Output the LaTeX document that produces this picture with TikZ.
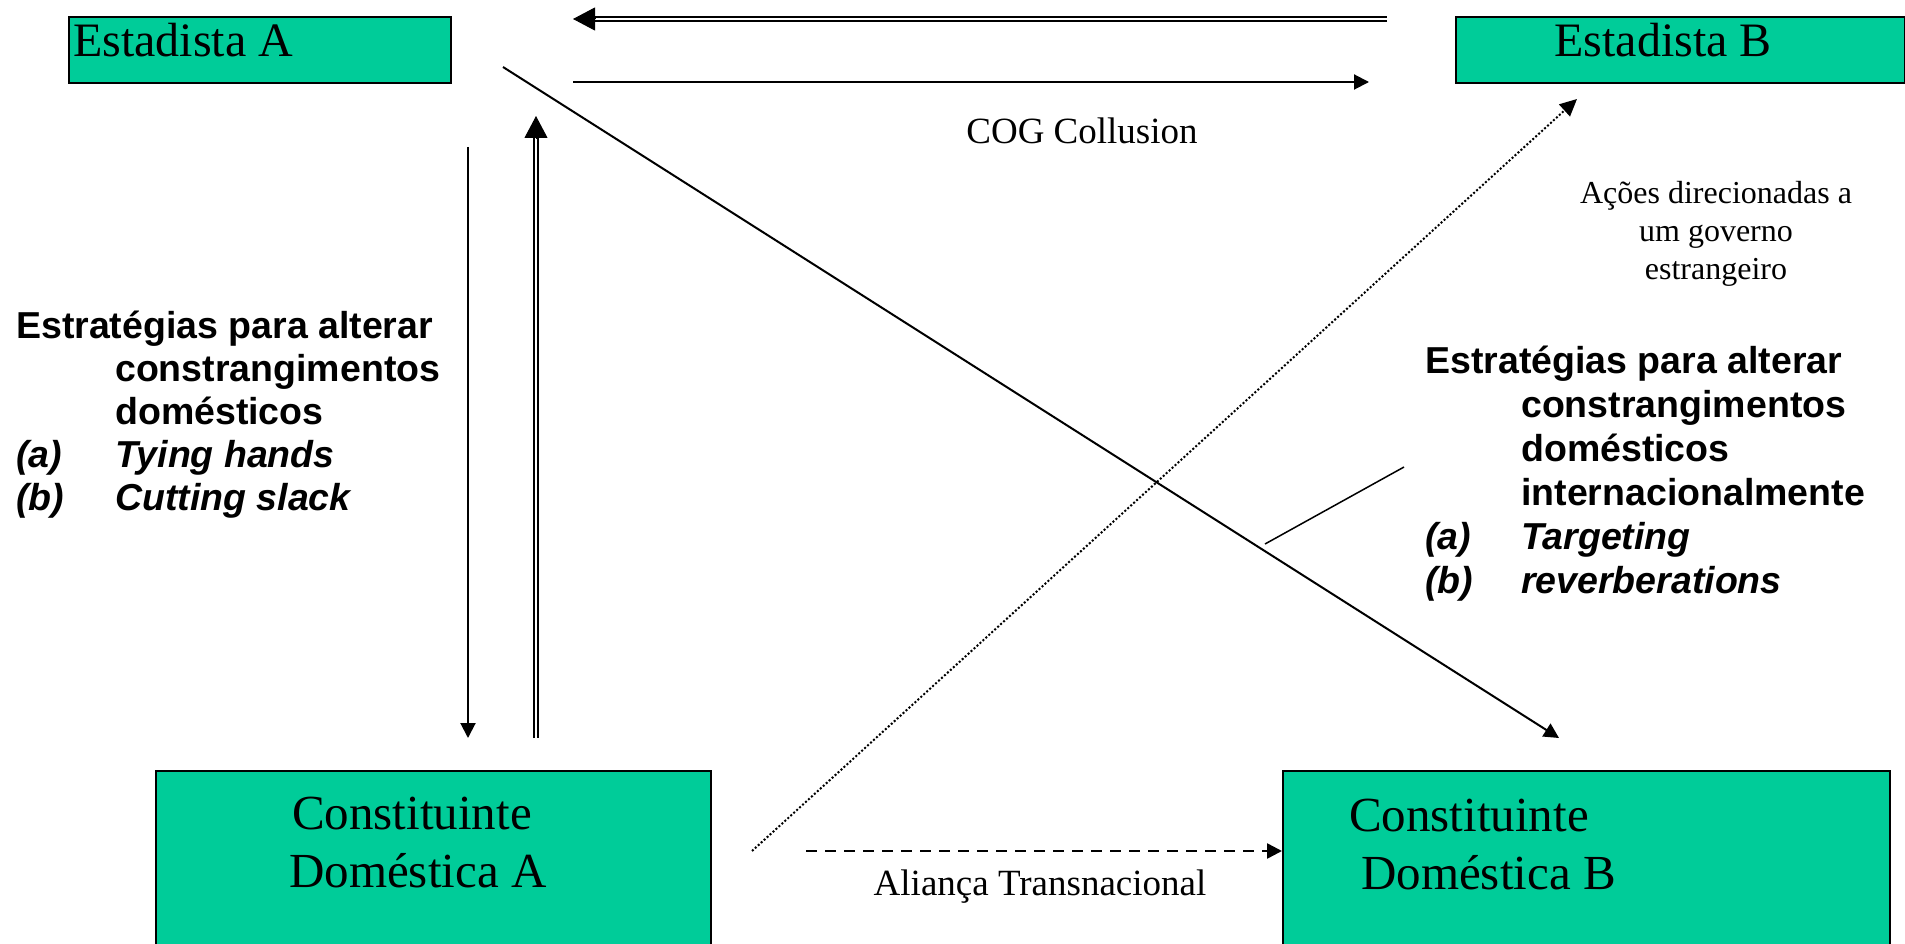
\documentclass[tikz,border=0pt]{standalone}
\usepackage{fontspec}
\setmainfont{Liberation Serif}
\newfontfamily\arialf{Liberation Sans}
\usetikzlibrary{arrows.meta}
\definecolor{boxgreen}{RGB}{0,204,153}
\begin{document}
\begin{tikzpicture}[x=1pt,y=-1pt,
  box/.style={draw=black, line width=2pt, fill=boxgreen, inner sep=0pt, outer sep=0pt, anchor=north west},
  boxtext/.style={font=\fontsize{49}{58}\selectfont, inner sep=0pt, anchor=base west, align=left},
  lbl/.style={font=\fontsize{37}{43}\selectfont, inner sep=0pt, anchor=base},
  small/.style={font=\fontsize{32}{38}\selectfont, inner sep=0pt, anchor=base, align=center},
  strat/.style={font=\arialf\bfseries\fontsize{37.5}{43}\selectfont, inner sep=0pt, anchor=base west, align=left},
  ar/.style={line width=2pt, -{Triangle[length=15pt 0 0,width=15pt 0 0]}},
  dbl/.style={double, double distance=2pt, line width=1.6pt},
  dtip/.style={line width=1pt, -{Triangle[length=22pt 0 0,width=23pt 0 0]}},
  dotarrow/.style={line width=2pt, dash pattern=on 2pt off 2pt, -{Triangle[length=17pt 0 0,width=16pt 0 0]}},
  dasharrow/.style={line width=2.5pt, dash pattern=on 11pt off 8pt, -{Triangle[length=15pt 0 0,width=15pt 0 0]}},
  plain/.style={line width=1.5pt}
]
\useasboundingbox (0,0) rectangle (1905,944);
\clip (0,0) rectangle (1905,944);

% boxes
\node[box, minimum width=382pt, minimum height=66pt] (sa) at (69,17) {};
\node[box, minimum width=449pt, minimum height=66pt] (sb) at (1456,17) {};
\node[box, minimum width=555pt, minimum height=220pt] (ca) at (156,771) {};
\node[box, minimum width=607pt, minimum height=220pt] (cb) at (1283,771) {};

% box texts (base anchor = last line)
\node[boxtext, font=\fontsize{48}{58}\selectfont] (saT) at (73,57) {Estadista A};
\node[boxtext, font=\fontsize{48}{58}\selectfont, anchor=base] (sbT) at (1663,57) {Estadista B};
\node[boxtext] (caT) at (289,887) {\hspace*{3pt}Constituinte\\Doméstica A};
\node[boxtext] (cbT) at (1349,889) {Constituinte\\\hspace*{12pt}Doméstica B};

% labels
\node[lbl] (cog) at (1082,144) {COG Collusion};
\node[lbl] (ali) at (1040,895) {Aliança Transnacional};
\node[small] (acoes) at (1716,279) {Ações direcionadas a\\um governo\\estrangeiro};

\node[strat] (stratA) at (16,510) {Estratégias para alterar\\
\hspace*{99pt}constrangimentos\\
\hspace*{99pt}domésticos\\
\makebox[99pt][l]{\itshape (a)}{\itshape Tying hands}\\
\makebox[99pt][l]{\itshape (b)}{\itshape Cutting slack}};

\node[strat, font=\arialf\bfseries\fontsize{37.5}{44}\selectfont] (stratB) at (1425,593) {Estratégias para alterar\\
\hspace*{96pt}constrangimentos\\
\hspace*{96pt}domésticos\\
\hspace*{96pt}internacionalmente\\
\makebox[96pt][l]{\itshape (a)}{\itshape Targeting}\\
\makebox[96pt][l]{\itshape (b)}{\itshape reverberations}};

% coordinates for connectors
\coordinate (topR) at (1387,19);
\coordinate (topLb) at (595,19);
\coordinate (topL) at (573,19);
\coordinate (midL) at (573,82);
\coordinate (midR) at (1369,82);
\coordinate (diagS) at (503,67);
\coordinate (diagE) at (1559,738);
\coordinate (downS) at (468,147);
\coordinate (downE) at (468,738);
\coordinate (upS) at (536,738);
\coordinate (upb) at (536,138);
\coordinate (upE) at (536,116);
\coordinate (dotS) at (752,851);
\coordinate (dotE) at (1577,99);
\coordinate (dashS) at (806,851);
\coordinate (dashE) at (1282,851);
\coordinate (shortA) at (1265,544);
\coordinate (shortB) at (1404,467);

% connectors
\draw[dbl] (topR) -- (topLb);
\draw[dtip] (topLb) -- (topL);
\draw[ar] (midL) -- (midR);
\draw[ar] (diagS) -- (diagE);
\draw[ar] (downS) -- (downE);
\draw[dbl] (upS) -- (upb);
\draw[dtip] (upb) -- (upE);
\draw[dotarrow] (dotS) -- (dotE);
\draw[dasharrow] (dashS) -- (dashE);
\draw[plain] (shortA) -- (shortB);
\end{tikzpicture}
\end{document}
